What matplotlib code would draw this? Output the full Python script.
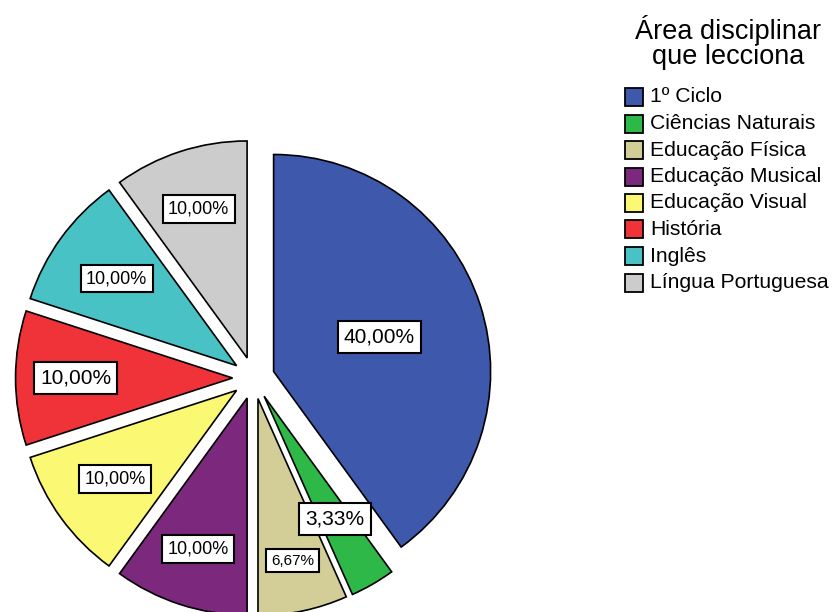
import numpy as np
import matplotlib.pyplot as plt
from matplotlib.patches import Rectangle

plt.rcParams['font.family'] = ['Liberation Sans', 'DejaVu Sans']

# data
categories = ['1º Ciclo', 'Ciências Naturais', 'Educação Física', 'Educação Musical',
              'Educação Visual', 'História', 'Inglês', 'Língua Portuguesa']
percent = [40.00, 3.33, 6.67, 10.00, 10.00, 10.00, 10.00, 10.00]
pct_labels = ['40,00%', '3,33%', '6,67%', '10,00%', '10,00%', '10,00%', '10,00%', '10,00%']
colors = ['#3E58AC', '#2EB848', '#D3CE97', '#7C287D', '#FBF873', '#EF3338', '#48C2C5', '#CCCCCC']

# label layout (distance from centre as fraction of radius, font size)
lab_dist = [0.61, 0.75, 0.86, 0.83, 0.79, 0.82, 0.78, 0.82]
lab_size = [15, 15, 11, 13, 13, 15, 13, 13]

R = 217.0   # radius in pixels
cx, cy = 253.6, 378.0   # centre in pixels (from top-left)
W, H = 832, 612

fig = plt.figure(figsize=(W / 100, H / 100), dpi=100)
ax = fig.add_axes([0, 0, 1, 1])

wedges, _ = ax.pie(percent, colors=colors, startangle=90, counterclock=False,
                   explode=[0.097] * len(percent), radius=1.0,
                   wedgeprops=dict(edgecolor='black', linewidth=1.2))
for w in wedges:
    w.set_clip_on(False)

ax.set_aspect('auto')
ax.set_xlim(-cx / R, (W - cx) / R)
ax.set_ylim((cy - H) / R, cy / R)
ax.axis('off')

# percentage boxes
theta = 90.0
for p, lab, d, fs in zip(percent, pct_labels, lab_dist, lab_size):
    ang = np.deg2rad(theta - p * 3.6 / 2)
    ax.text(d * np.cos(ang), d * np.sin(ang), lab, fontsize=fs, ha='center', va='center',
            bbox=dict(boxstyle='square,pad=0.3', facecolor='white', edgecolor='black', linewidth=1.5))
    theta -= p * 3.6

# legend, drawn by hand in pixel positions
def px(x, y):
    return x / W, 1 - y / H

fig.text(*px(728, 30), 'Área disciplinar', fontsize=19.5, ha='center', va='center')
fig.text(*px(728, 57), 'que lecciona', fontsize=19.5, ha='center', va='center')
for i, (name, col) in enumerate(zip(categories, colors)):
    yc = 97 + i * 26.5
    x0, y0 = px(625, yc + 9)
    fig.patches.append(Rectangle((x0, y0), 18 / W, 18 / H, transform=fig.transFigure,
                                 facecolor=col, edgecolor='black', linewidth=1.3))
    fig.text(*px(650, yc), name, fontsize=15.2, ha='left', va='center')

plt.savefig('out.png', dpi=100)
